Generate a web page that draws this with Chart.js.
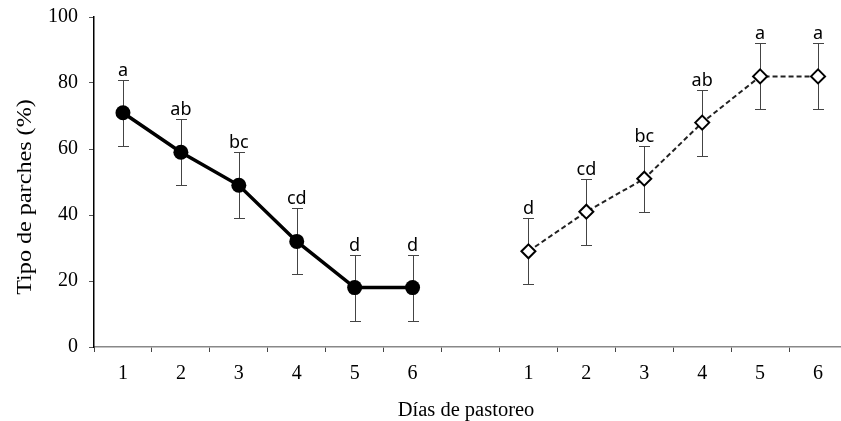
<!DOCTYPE html>
<html>
<head>
<meta charset="utf-8">
<script src="https://cdn.jsdelivr.net/npm/chart.js@4.4.0/dist/chart.umd.min.js"></script>
<style>
  html, body { margin: 0; padding: 0; background: #fff; overflow: hidden; }
  #marco { width: 841px; height: 421px; overflow: hidden; }
  #marco canvas { display: block; }
</style>
</head>
<body>
<div id="marco"><canvas id="grafico" width="860" height="421"></canvas></div>
<script>
// Días de pastoreo (dos bloques de 6 días)
const dias = ['1', '2', '3', '4', '5', '6'];
// primer bloque: línea continua con círculos
const valoresA = [71, 59, 49, 32, 18, 18];
const errorA = [10, 10, 10, 10, 10, 10];
const letrasA = ['a', 'ab', 'bc', 'cd', 'd', 'd'];
// segundo bloque: línea discontinua con rombos
const valoresB = [29, 41, 51, 68, 82, 82];
const errorB = [10, 10, 10, 10, 10, 10];
const letrasB = ['d', 'cd', 'bc', 'ab', 'a', 'a'];
const ticksY = [0, 20, 40, 60, 80, 100];

// eje x: 6 días + hueco + 6 días
const etiquetas = [...dias, '', ...dias];
const hueco = new Array(dias.length + 1).fill(null);

const serif = '"Liberation Serif", "Times New Roman", serif';
const fuenteTicks = { family: serif, size: 20 };

// barras de error, letras de significancia y títulos de ejes
const extras = {
  id: 'extras',
  beforeDatasetsDraw(chart) {
    const ctx = chart.ctx;
    const y = chart.scales.y;
    ctx.save();
    ctx.strokeStyle = '#444';
    ctx.lineWidth = 1;
    chart.data.datasets.forEach((ds, i) => {
      const meta = chart.getDatasetMeta(i);
      ds.data.forEach((v, j) => {
        if (v === null) return;
        const e = ds.errores[j];
        const px = Math.round(meta.data[j].x) + 0.5;
        const arriba = Math.round(y.getPixelForValue(v + e)) + 0.5;
        const abajo = Math.round(y.getPixelForValue(v - e)) + 0.5;
        ctx.beginPath();
        ctx.moveTo(px, arriba); ctx.lineTo(px, abajo);
        ctx.moveTo(px - 5.5, arriba); ctx.lineTo(px + 5.5, arriba);
        ctx.moveTo(px - 5.5, abajo); ctx.lineTo(px + 5.5, abajo);
        ctx.stroke();
      });
    });
    ctx.restore();
  },
  afterDatasetsDraw(chart) {
    const ctx = chart.ctx;
    const y = chart.scales.y;
    ctx.save();
    ctx.fillStyle = '#000';
    ctx.font = '18px "Noto Sans", "DejaVu Sans", sans-serif';
    ctx.textAlign = 'center';
    ctx.textBaseline = 'alphabetic';
    chart.data.datasets.forEach((ds, i) => {
      const meta = chart.getDatasetMeta(i);
      ds.data.forEach((v, j) => {
        if (v === null) return;
        const arriba = y.getPixelForValue(v + ds.errores[j]);
        ctx.fillText(ds.letras[j], meta.data[j].x, arriba - 4);
      });
    });
    ctx.restore();
  },
  afterDraw(chart) {
    const ctx = chart.ctx;
    ctx.save();
    ctx.fillStyle = '#000';
    ctx.textAlign = 'center';
    ctx.textBaseline = 'middle';
    ctx.font = '20.5px ' + serif;
    ctx.fillText('Días de pastoreo', 466, 411);
    ctx.font = '21px ' + serif;
    ctx.translate(25, 197);
    ctx.rotate(-Math.PI / 2);
    ctx.scale(1.15, 1);
    ctx.fillText('Tipo de parches (%)', 0, 0);
    ctx.restore();
  }
};

new Chart('grafico', {
  type: 'line',
  data: {
    labels: etiquetas,
    datasets: [{
      data: [...valoresA, ...hueco],
      errores: [...errorA, ...hueco],
      letras: [...letrasA, ...hueco],
      borderColor: '#000',
      borderWidth: 3.5,
      pointStyle: 'circle',
      pointRadius: 7.5,
      pointBackgroundColor: '#000',
      pointBorderColor: '#000',
      pointBorderWidth: 0,
      spanGaps: false
    }, {
      data: [...hueco, ...valoresB],
      errores: [...hueco, ...errorB],
      letras: [...hueco, ...letrasB],
      borderColor: '#222',
      borderWidth: 2,
      borderDash: [5, 3],
      pointStyle: 'rectRot',
      pointRadius: 7,
      pointBackgroundColor: '#fff',
      pointBorderColor: '#000',
      pointBorderWidth: 2,
      spanGaps: false
    }]
  },
  options: {
    responsive: false,
    animation: false,
    layout: { padding: { top: 17, right: 13, left: 0, bottom: 0 } },
    plugins: { legend: { display: false }, tooltip: { enabled: false } },
    scales: {
      x: {
        type: 'category',
        offset: true,
        grid: { offset: true, drawOnChartArea: false, drawTicks: true, tickLength: 5, color: '#444' },
        border: { color: '#888', width: 1.5 },
        ticks: { font: fuenteTicks, color: '#000', padding: 10, autoSkip: false, maxRotation: 0 },
        afterFit: s => { s.height = 74; }
      },
      y: {
        min: 0,
        max: 100,
        afterBuildTicks: s => { s.ticks = ticksY.map(v => ({ value: v })); },
        grid: { drawOnChartArea: false, drawTicks: true, tickLength: 5, color: '#555' },
        border: { color: '#000', width: 1.5 },
        ticks: { font: fuenteTicks, color: '#000', padding: 11 },
        afterFit: s => { s.width = 94; s.paddingTop = 0; s.paddingBottom = 0; }
      }
    }
  },
  plugins: [extras]
});
</script>
</body>
</html>
